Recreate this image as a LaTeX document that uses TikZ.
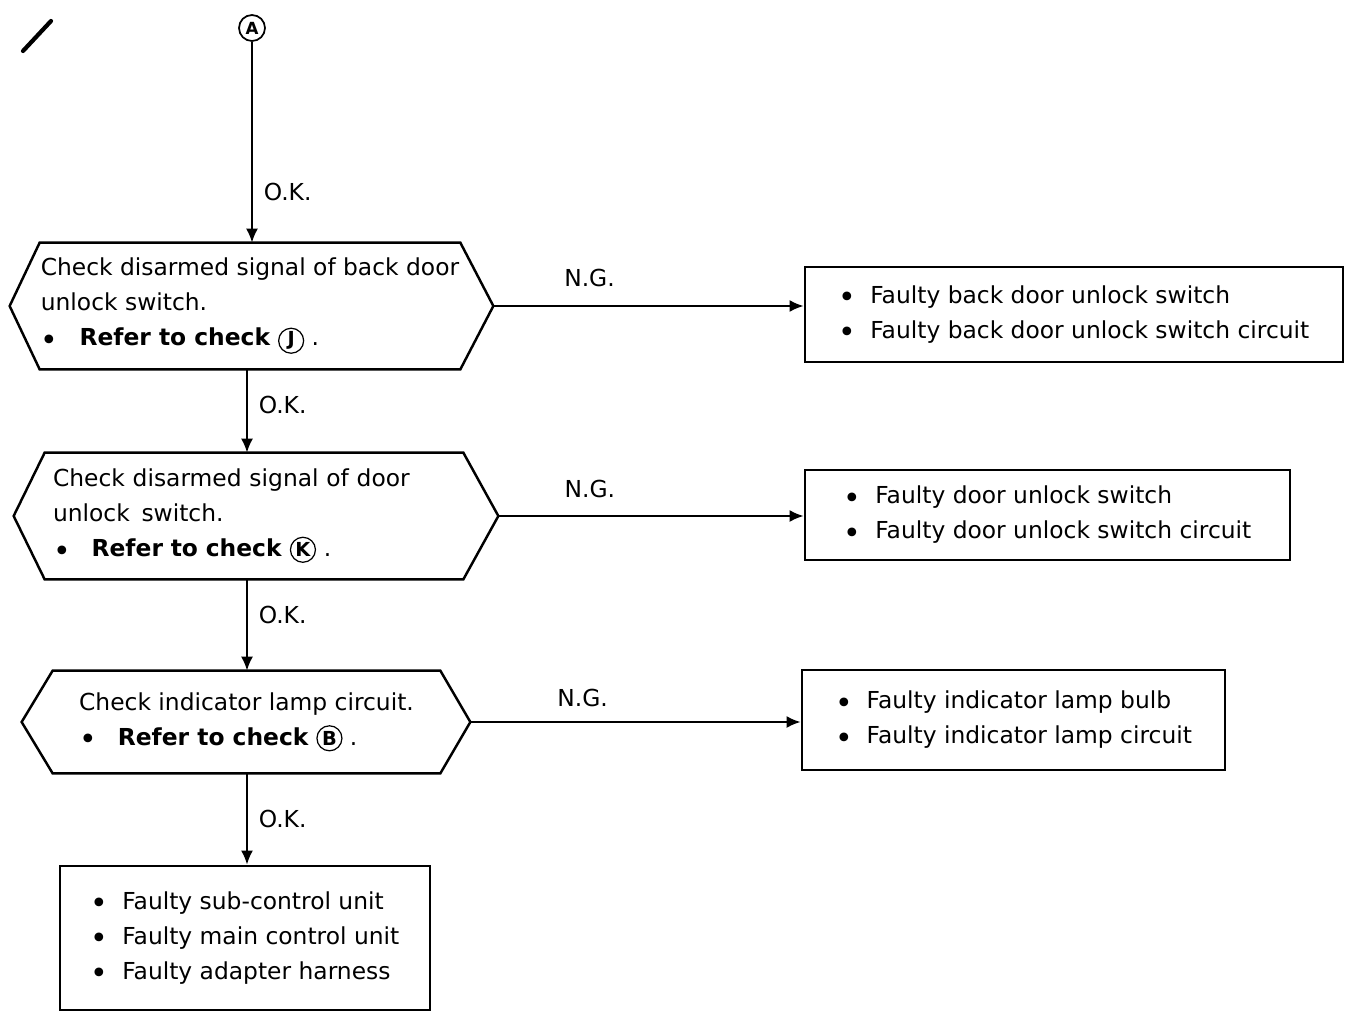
\documentclass[tikz,border=0pt]{standalone}
\usepackage{fontspec}
\setmainfont{DejaVu Sans}
\usetikzlibrary{arrows.meta}

% bullet lines used in the boxes
\newcommand{\dotmark}{\raisebox{-2.4pt}{\fontsize{17}{17}\selectfont\textbullet}}
\newcommand{\itm}{\dotmark\hspace{0.6em}}
\newcommand{\circletter}[1]{\tikz[baseline=(c.base)]
    \node[draw,circle,line width=0.7pt,minimum size=0.5cm,inner sep=0pt,
          font=\fontsize{11}{11}\selectfont\bfseries] (c) {#1};}
\newcommand{\refchk}[1]{\dotmark\hspace{0.9em}\textbf{Refer to check}~\circletter{#1}~.}

\tikzset{
    every node/.style={font=\fontsize{13.3}{19.9}\selectfont},
    >={Latex[length=2.8mm,width=2.4mm]},
    hexbody/.style={align=left,inner xsep=0pt,inner ysep=0pt},
    hexline/.style={line width=1.4pt,line join=miter},
    faultbox/.style={draw,line width=1.6pt,align=left,inner sep=0pt},
    flow/.style={line width=1.1pt,->},
}

\begin{document}
\begin{tikzpicture}
    \useasboundingbox (0,0) rectangle (26.9,-20.2);

    % stray pen mark
    \draw[line width=2.4pt,line cap=round] (0.46,-1.02) -- (1.02,-0.42);

    \coordinate (col) at (4.94,0);
    \node[draw,circle,line width=1pt,minimum size=0.52cm,inner sep=0pt,
          font=\fontsize{9.5}{9.5}\selectfont\bfseries] (A) at (5.04,-0.56) {A};

    % checks
    \node[hexbody,minimum width=8.4cm,minimum height=2.52cm] (h1) at (5.00,-6.12)
        {Check disarmed signal of back door\\unlock switch.\\\refchk{J}};
    \draw[hexline] (h1.north west) -- (h1.north east) -- ([xshift=0.66cm]h1.east)
        -- (h1.south east) -- (h1.south west) -- ([xshift=-0.6cm]h1.west) -- cycle;
    \coordinate (h1tip) at ([xshift=0.66cm]h1.east);

    \node[hexbody,inner xsep=0.16cm,text width=8.04cm,minimum height=2.52cm] (h2) at (5.08,-10.32)
        {Check disarmed signal of door\\unlock\enspace switch.\\\refchk{K}};
    \draw[hexline] (h2.north west) -- (h2.north east) -- ([xshift=0.7cm]h2.east)
        -- (h2.south east) -- (h2.south west) -- ([xshift=-0.62cm]h2.west) -- cycle;
    \coordinate (h2tip) at ([xshift=0.7cm]h2.east);

    \node[hexbody,minimum width=7.74cm,minimum height=2.04cm] (h3) at (4.93,-14.44)
        {Check indicator lamp circuit.\\\refchk{B}};
    \draw[hexline] (h3.north west) -- (h3.north east) -- ([xshift=0.6cm]h3.east)
        -- (h3.south east) -- (h3.south west) -- ([xshift=-0.62cm]h3.west) -- cycle;
    \coordinate (h3tip) at ([xshift=0.6cm]h3.east);

    % results
    \node[faultbox,minimum width=10.76cm,minimum height=1.9cm] (b1) at (21.48,-6.29)
        {\itm Faulty back door unlock switch\\\itm Faulty back door unlock switch circuit};
    \node[faultbox,minimum width=9.7cm,minimum height=1.8cm] (b2) at (20.95,-10.30)
        {\itm Faulty door unlock switch\\\itm Faulty door unlock switch circuit};
    \node[faultbox,minimum width=8.46cm,minimum height=2.0cm] (b3) at (20.27,-14.40)
        {\itm Faulty indicator lamp bulb\\\itm Faulty indicator lamp circuit};
    \node[faultbox,minimum width=7.4cm,minimum height=2.88cm] (b4) at (4.90,-18.76)
        {\itm Faulty sub-control unit\\\itm Faulty main control unit\\\itm Faulty adapter harness};

    % O.K. branch
    \draw[flow] (A) -- (A |- h1.north) node[pos=0.75,right=0.1cm] {O.K.};
    \draw[flow] (h1.south -| col) -- (h2.north -| col) node[pos=0.43,right=0.1cm] {O.K.};
    \draw[flow] (h2.south -| col) -- (h3.north -| col) node[pos=0.39,right=0.1cm] {O.K.};
    \draw[flow] (h3.south -| col) -- (b4.north -| col) node[pos=0.5,right=0.1cm] {O.K.};

    % N.G. branch
    \draw[flow] (h1tip) -- (h1tip -| b1.west) node[pos=0.31,above=0.24cm] {N.G.};
    \draw[flow] (h2tip) -- (h2tip -| b2.west) node[pos=0.30,above=0.22cm] {N.G.};
    \draw[flow] (h3tip) -- (h3tip -| b3.west) node[pos=0.34,above=0.16cm] {N.G.};
\end{tikzpicture}
\end{document}
